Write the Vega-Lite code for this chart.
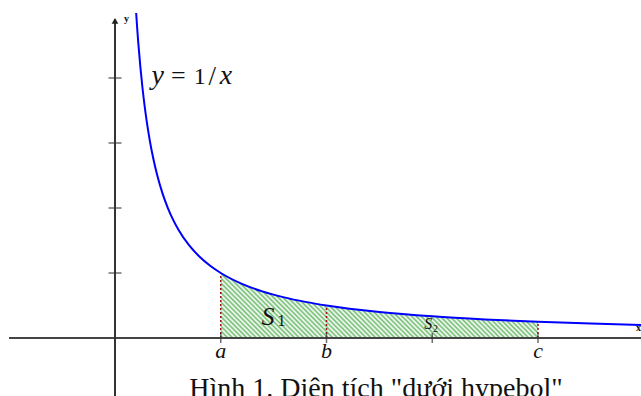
{
  "$schema": "https://vega.github.io/schema/vega-lite/v6.json",
  "width": 641,
  "height": 396,
  "autosize": "none",
  "padding": 0,
  "background": "white",
  "config": {"view": {"stroke": null}, "text": {"font": "Liberation Serif", "color": "#111"}},
  "datasets": {
    "curve": [
      {"x": 0.2, "y": 5}, {"x": 0.21, "y": 4.762}, {"x": 0.22, "y": 4.545}, {"x": 0.24, "y": 4.167},
      {"x": 0.26, "y": 3.846}, {"x": 0.28, "y": 3.571}, {"x": 0.3, "y": 3.333}, {"x": 0.33, "y": 3.03},
      {"x": 0.36, "y": 2.778}, {"x": 0.4, "y": 2.5}, {"x": 0.45, "y": 2.222}, {"x": 0.5, "y": 2},
      {"x": 0.55, "y": 1.818}, {"x": 0.6, "y": 1.667}, {"x": 0.7, "y": 1.429}, {"x": 0.8, "y": 1.25},
      {"x": 0.9, "y": 1.111}, {"x": 1, "y": 1}, {"x": 1.2, "y": 0.833}, {"x": 1.4, "y": 0.714},
      {"x": 1.6, "y": 0.625}, {"x": 1.8, "y": 0.556}, {"x": 2, "y": 0.5}, {"x": 2.5, "y": 0.4},
      {"x": 3, "y": 0.333}, {"x": 3.5, "y": 0.286}, {"x": 4, "y": 0.25}, {"x": 4.5, "y": 0.222},
      {"x": 4.974, "y": 0.201}
    ],
    "bounds": [
      {"label": "a", "x": 1, "y": 1},
      {"label": "b", "x": 2, "y": 0.5},
      {"label": "c", "x": 4, "y": 0.25}
    ],
    "yticks": [{"x": 0, "y": 1}, {"x": 0, "y": 2}, {"x": 0, "y": 3}, {"x": 0, "y": 4}],
    "xticks": [{"x": 1, "y": 0}, {"x": 2, "y": 0}, {"x": 3, "y": 0}, {"x": 4, "y": 0}],
    "origin": [{"x": 0, "y": 0}]
  },
  "encoding": {
    "x": {"field": "x", "type": "quantitative", "scale": {"domain": [-1.0875, 4.974], "nice": false, "zero": false}, "axis": null},
    "y": {"field": "y", "type": "quantitative", "scale": {"domain": [-0.892, 5.2], "nice": false, "zero": false}, "axis": null}
  },
  "layer": [
    {
      "data": {"name": "curve"},
      "transform": [{"filter": "datum.x >= 1 && datum.x <= 4"}],
      "mark": {
        "type": "area",
        "interpolate": "monotone",
        "fill": {
          "gradient": "linear",
          "x1": 0, "y1": 1, "x2": 1.156, "y2": 0.764,
          "stops": [
            {"offset": 0, "color": "#fff"}, {"offset": 0.00625, "color": "#70bc70"}, {"offset": 0.0125, "color": "#fff"}, {"offset": 0.01875, "color": "#70bc70"}, {"offset": 0.025, "color": "#fff"}, {"offset": 0.03125, "color": "#70bc70"}, {"offset": 0.0375, "color": "#fff"}, {"offset": 0.04375, "color": "#70bc70"},
            {"offset": 0.05, "color": "#fff"}, {"offset": 0.05625, "color": "#70bc70"}, {"offset": 0.0625, "color": "#fff"}, {"offset": 0.06875, "color": "#70bc70"}, {"offset": 0.075, "color": "#fff"}, {"offset": 0.08125, "color": "#70bc70"}, {"offset": 0.0875, "color": "#fff"}, {"offset": 0.09375, "color": "#70bc70"},
            {"offset": 0.1, "color": "#fff"}, {"offset": 0.10625, "color": "#70bc70"}, {"offset": 0.1125, "color": "#fff"}, {"offset": 0.11875, "color": "#70bc70"}, {"offset": 0.125, "color": "#fff"}, {"offset": 0.13125, "color": "#70bc70"}, {"offset": 0.1375, "color": "#fff"}, {"offset": 0.14375, "color": "#70bc70"},
            {"offset": 0.15, "color": "#fff"}, {"offset": 0.15625, "color": "#70bc70"}, {"offset": 0.1625, "color": "#fff"}, {"offset": 0.16875, "color": "#70bc70"}, {"offset": 0.175, "color": "#fff"}, {"offset": 0.18125, "color": "#70bc70"}, {"offset": 0.1875, "color": "#fff"}, {"offset": 0.19375, "color": "#70bc70"},
            {"offset": 0.2, "color": "#fff"}, {"offset": 0.20625, "color": "#70bc70"}, {"offset": 0.2125, "color": "#fff"}, {"offset": 0.21875, "color": "#70bc70"}, {"offset": 0.225, "color": "#fff"}, {"offset": 0.23125, "color": "#70bc70"}, {"offset": 0.2375, "color": "#fff"}, {"offset": 0.24375, "color": "#70bc70"},
            {"offset": 0.25, "color": "#fff"}, {"offset": 0.25625, "color": "#70bc70"}, {"offset": 0.2625, "color": "#fff"}, {"offset": 0.26875, "color": "#70bc70"}, {"offset": 0.275, "color": "#fff"}, {"offset": 0.28125, "color": "#70bc70"}, {"offset": 0.2875, "color": "#fff"}, {"offset": 0.29375, "color": "#70bc70"},
            {"offset": 0.3, "color": "#fff"}, {"offset": 0.30625, "color": "#70bc70"}, {"offset": 0.3125, "color": "#fff"}, {"offset": 0.31875, "color": "#70bc70"}, {"offset": 0.325, "color": "#fff"}, {"offset": 0.33125, "color": "#70bc70"}, {"offset": 0.3375, "color": "#fff"}, {"offset": 0.34375, "color": "#70bc70"},
            {"offset": 0.35, "color": "#fff"}, {"offset": 0.35625, "color": "#70bc70"}, {"offset": 0.3625, "color": "#fff"}, {"offset": 0.36875, "color": "#70bc70"}, {"offset": 0.375, "color": "#fff"}, {"offset": 0.38125, "color": "#70bc70"}, {"offset": 0.3875, "color": "#fff"}, {"offset": 0.39375, "color": "#70bc70"},
            {"offset": 0.4, "color": "#fff"}, {"offset": 0.40625, "color": "#70bc70"}, {"offset": 0.4125, "color": "#fff"}, {"offset": 0.41875, "color": "#70bc70"}, {"offset": 0.425, "color": "#fff"}, {"offset": 0.43125, "color": "#70bc70"}, {"offset": 0.4375, "color": "#fff"}, {"offset": 0.44375, "color": "#70bc70"},
            {"offset": 0.45, "color": "#fff"}, {"offset": 0.45625, "color": "#70bc70"}, {"offset": 0.4625, "color": "#fff"}, {"offset": 0.46875, "color": "#70bc70"}, {"offset": 0.475, "color": "#fff"}, {"offset": 0.48125, "color": "#70bc70"}, {"offset": 0.4875, "color": "#fff"}, {"offset": 0.49375, "color": "#70bc70"},
            {"offset": 0.5, "color": "#fff"}, {"offset": 0.50625, "color": "#70bc70"}, {"offset": 0.5125, "color": "#fff"}, {"offset": 0.51875, "color": "#70bc70"}, {"offset": 0.525, "color": "#fff"}, {"offset": 0.53125, "color": "#70bc70"}, {"offset": 0.5375, "color": "#fff"}, {"offset": 0.54375, "color": "#70bc70"},
            {"offset": 0.55, "color": "#fff"}, {"offset": 0.55625, "color": "#70bc70"}, {"offset": 0.5625, "color": "#fff"}, {"offset": 0.56875, "color": "#70bc70"}, {"offset": 0.575, "color": "#fff"}, {"offset": 0.58125, "color": "#70bc70"}, {"offset": 0.5875, "color": "#fff"}, {"offset": 0.59375, "color": "#70bc70"},
            {"offset": 0.6, "color": "#fff"}, {"offset": 0.60625, "color": "#70bc70"}, {"offset": 0.6125, "color": "#fff"}, {"offset": 0.61875, "color": "#70bc70"}, {"offset": 0.625, "color": "#fff"}, {"offset": 0.63125, "color": "#70bc70"}, {"offset": 0.6375, "color": "#fff"}, {"offset": 0.64375, "color": "#70bc70"},
            {"offset": 0.65, "color": "#fff"}, {"offset": 0.65625, "color": "#70bc70"}, {"offset": 0.6625, "color": "#fff"}, {"offset": 0.66875, "color": "#70bc70"}, {"offset": 0.675, "color": "#fff"}, {"offset": 0.68125, "color": "#70bc70"}, {"offset": 0.6875, "color": "#fff"}, {"offset": 0.69375, "color": "#70bc70"},
            {"offset": 0.7, "color": "#fff"}, {"offset": 0.70625, "color": "#70bc70"}, {"offset": 0.7125, "color": "#fff"}, {"offset": 0.71875, "color": "#70bc70"}, {"offset": 0.725, "color": "#fff"}, {"offset": 0.73125, "color": "#70bc70"}, {"offset": 0.7375, "color": "#fff"}, {"offset": 0.74375, "color": "#70bc70"},
            {"offset": 0.75, "color": "#fff"}, {"offset": 0.75625, "color": "#70bc70"}, {"offset": 0.7625, "color": "#fff"}, {"offset": 0.76875, "color": "#70bc70"}, {"offset": 0.775, "color": "#fff"}, {"offset": 0.78125, "color": "#70bc70"}, {"offset": 0.7875, "color": "#fff"}, {"offset": 0.79375, "color": "#70bc70"},
            {"offset": 0.8, "color": "#fff"}, {"offset": 0.80625, "color": "#70bc70"}, {"offset": 0.8125, "color": "#fff"}, {"offset": 0.81875, "color": "#70bc70"}, {"offset": 0.825, "color": "#fff"}, {"offset": 0.83125, "color": "#70bc70"}, {"offset": 0.8375, "color": "#fff"}, {"offset": 0.84375, "color": "#70bc70"},
            {"offset": 0.85, "color": "#fff"}, {"offset": 0.85625, "color": "#70bc70"}, {"offset": 0.8625, "color": "#fff"}, {"offset": 0.86875, "color": "#70bc70"}, {"offset": 0.875, "color": "#fff"}, {"offset": 0.88125, "color": "#70bc70"}, {"offset": 0.8875, "color": "#fff"}, {"offset": 0.89375, "color": "#70bc70"},
            {"offset": 0.9, "color": "#fff"}, {"offset": 0.90625, "color": "#70bc70"}, {"offset": 0.9125, "color": "#fff"}, {"offset": 0.91875, "color": "#70bc70"}, {"offset": 0.925, "color": "#fff"}, {"offset": 0.93125, "color": "#70bc70"}, {"offset": 0.9375, "color": "#fff"}, {"offset": 0.94375, "color": "#70bc70"},
            {"offset": 0.95, "color": "#fff"}, {"offset": 0.95625, "color": "#70bc70"}, {"offset": 0.9625, "color": "#fff"}, {"offset": 0.96875, "color": "#70bc70"}, {"offset": 0.975, "color": "#fff"}, {"offset": 0.98125, "color": "#70bc70"}, {"offset": 0.9875, "color": "#fff"}, {"offset": 0.99375, "color": "#70bc70"},
            {"offset": 1, "color": "#fff"}
          ]
        }
      },
      "encoding": {"y2": {"datum": 0}}
    },
    {
      "data": {"name": "bounds"},
      "mark": {"type": "rule", "color": "#a01010", "strokeWidth": 1.5, "strokeDash": [2, 2]},
      "encoding": {"y": {"datum": 0}, "y2": {"field": "y"}}
    },
    {
      "data": {"name": "origin"},
      "mark": {"type": "rule", "color": "#444", "strokeWidth": 2},
      "encoding": {"x": {"datum": -1.002}, "x2": {"datum": 4.974}}
    },
    {
      "data": {"name": "origin"},
      "mark": {"type": "rule", "color": "#333", "strokeWidth": 2},
      "encoding": {"y": {"datum": -0.892}, "y2": {"datum": 4.9}}
    },
    {
      "data": {"name": "origin"},
      "mark": {"type": "point", "shape": "triangle-up", "filled": true, "color": "#222", "opacity": 1, "size": 45},
      "encoding": {"y": {"datum": 4.88}}
    },
    {
      "data": {"name": "yticks"},
      "mark": {"type": "tick", "orient": "horizontal", "color": "#333", "size": 13, "thickness": 1.5}
    },
    {
      "data": {"name": "xticks"},
      "mark": {"type": "tick", "orient": "vertical", "color": "#333", "size": 10, "thickness": 1.5}
    },
    {
      "data": {"name": "curve"},
      "mark": {"type": "line", "color": "#0000ff", "strokeWidth": 2, "interpolate": "monotone", "clip": true}
    },
    {
      "data": {"name": "bounds"},
      "mark": {"type": "text", "font": "Liberation Serif", "fontStyle": "italic", "fontSize": 22, "align": "center", "baseline": "alphabetic"},
      "encoding": {"y": {"datum": -0.31}, "text": {"field": "label"}}
    },
    {
      "data": {"name": "origin"},
      "mark": {"type": "text", "text": "y", "font": "Liberation Serif", "fontStyle": "italic", "fontSize": 28, "align": "left", "baseline": "alphabetic"},
      "encoding": {"x": {"datum": 0.345}, "y": {"datum": 3.908}}
    },
    {
      "data": {"name": "origin"},
      "mark": {"type": "text", "text": "=", "font": "Liberation Serif", "fontSize": 26, "align": "left", "baseline": "alphabetic"},
      "encoding": {"x": {"datum": 0.53}, "y": {"datum": 3.908}}
    },
    {
      "data": {"name": "origin"},
      "mark": {"type": "text", "text": "1", "font": "Liberation Serif", "fontSize": 24, "align": "left", "baseline": "alphabetic"},
      "encoding": {"x": {"datum": 0.745}, "y": {"datum": 3.908}}
    },
    {
      "data": {"name": "origin"},
      "mark": {"type": "text", "text": "/", "font": "Liberation Serif", "fontSize": 27, "align": "center", "baseline": "alphabetic"},
      "encoding": {"x": {"datum": 0.92}, "y": {"datum": 3.89}}
    },
    {
      "data": {"name": "origin"},
      "mark": {"type": "text", "text": "x", "font": "Liberation Serif", "fontStyle": "italic", "fontSize": 28, "align": "left", "baseline": "alphabetic"},
      "encoding": {"x": {"datum": 0.99}, "y": {"datum": 3.908}}
    },
    {
      "data": {"name": "origin"},
      "mark": {"type": "text", "text": "S", "font": "Liberation Serif", "fontStyle": "italic", "fontSize": 26, "align": "left", "baseline": "alphabetic"},
      "encoding": {"x": {"datum": 1.385}, "y": {"datum": 0.2}}
    },
    {
      "data": {"name": "origin"},
      "mark": {"type": "text", "text": "1", "font": "Liberation Serif", "fontSize": 16, "align": "left", "baseline": "alphabetic"},
      "encoding": {"x": {"datum": 1.537}, "y": {"datum": 0.185}}
    },
    {
      "data": {"name": "origin"},
      "mark": {"type": "text", "text": "S", "font": "Liberation Serif", "fontStyle": "italic", "fontSize": 16, "align": "left", "baseline": "alphabetic"},
      "encoding": {"x": {"datum": 2.925}, "y": {"datum": 0.138}}
    },
    {
      "data": {"name": "origin"},
      "mark": {"type": "text", "text": "2", "font": "Liberation Serif", "fontSize": 10, "align": "left", "baseline": "alphabetic"},
      "encoding": {"x": {"datum": 3.007}, "y": {"datum": 0.092}}
    },
    {
      "data": {"name": "origin"},
      "mark": {"type": "text", "text": "y", "font": "Liberation Serif", "fontSize": 10, "fontWeight": "bold", "align": "left", "baseline": "alphabetic"},
      "encoding": {"x": {"datum": 0.085}, "y": {"datum": 4.86}}
    },
    {
      "data": {"name": "origin"},
      "mark": {"type": "text", "text": "x", "font": "Liberation Serif", "fontSize": 10, "fontWeight": "bold", "align": "left", "baseline": "alphabetic"},
      "encoding": {"x": {"datum": 4.927}, "y": {"datum": 0.108}}
    },
    {
      "data": {"name": "origin"},
      "mark": {"type": "text", "text": "Hình 1. Diện tích \"dưới hypebol\"", "font": "Liberation Serif", "fontSize": 28, "align": "center", "baseline": "alphabetic"},
      "encoding": {"x": {"datum": 2.468}, "y": {"datum": -0.9}}
    }
  ]
}
